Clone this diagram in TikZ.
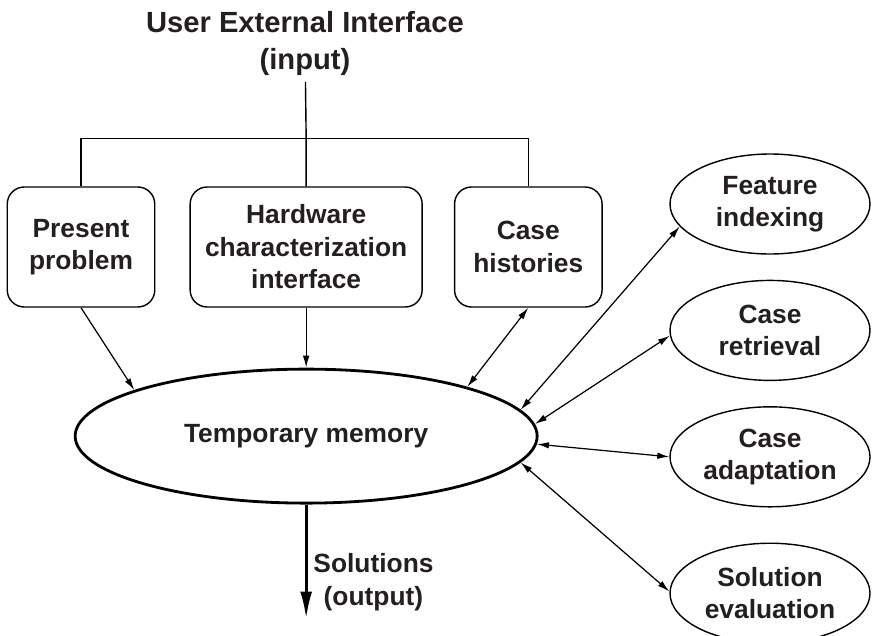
\documentclass[tikz,border=0pt]{standalone}
\usepackage{fontspec}
\setmainfont{Liberation Sans}
\usepackage{tikz}
\usetikzlibrary{shapes,arrows.meta,positioning}
\definecolor{inkgray}{RGB}{35,31,32}

\begin{document}
\begin{tikzpicture}[
  block/.style={rectangle,draw,rounded corners=0.34cm,line width=0.8pt,minimum width=2.95cm,minimum height=2.4cm,align=center,inner sep=0pt},
  oval/.style={ellipse,draw,line width=0.8pt,minimum width=4cm,minimum height=2cm,align=center,inner sep=0pt},
  arrow/.style={-{Latex[length=2.4mm,width=1.3mm]},line width=0.7pt},
  twoway/.style={{Latex[length=2.4mm,width=1.3mm]}-{Latex[length=2.4mm,width=1.3mm]},line width=0.7pt},
  font=\bfseries\fontsize{15}{18.5}\selectfont,
  text=inkgray
]
\useasboundingbox (0,0) rectangle (17.5,-12.7);
\node[block] (pp) at (1.62,-4.94) {Present\\problem};
\node[block,minimum width=4.64cm,right=0.68cm of pp] (hw) {Hardware\\characterization\\interface};
\node[block,right=0.62cm of hw] (ch) {Case\\histories};
\node[align=center,font=\bfseries\fontsize{16.6}{21}\selectfont] (title) at (6.1,-0.87) {User External Interface\\(input)};
\coordinate[above=0.96cm of hw.north] (bus);
\draw[line width=0.8pt] (title) -- (bus) -- (hw.north);
\draw[line width=0.8pt] (pp.north) |- (bus) -| (ch.north);
\node[oval,line width=1.6pt,minimum width=9.24cm,minimum height=2.68cm,below=1.2cm of hw] (tm) {Temporary memory};
\node[oval] (fi) at (15.4,-4.08) {Feature\\indexing};
\node[oval,below=0.5cm of fi] (cr) {Case\\retrieval};
\node[oval,below=0.5cm of cr] (ca) {Case\\adaptation};
\node[oval,below=0.7cm of ca] (se) {Solution\\evaluation};
\draw[arrow] (pp.south) -- (tm.165);
\draw[arrow] (hw.south) -- (tm.north);
\draw[twoway] (ch.south) -- (tm.17.5);
\draw[twoway] (fi.194) -- (tm.7.6);
\draw[twoway] (cr.183) -- (tm.3.7);
\draw[twoway] (ca.west) -- (tm.-2.2);
\draw[twoway] (se.179) -- (tm.-7.9);
\coordinate[below=2.28cm of tm.south] (out);
\draw[-{Latex[length=5.4mm,width=2.4mm]},line width=1.6pt] (tm) -- (out) node[pos=0.68,right,align=center] {Solutions\\(output)};
\end{tikzpicture}
\end{document}
